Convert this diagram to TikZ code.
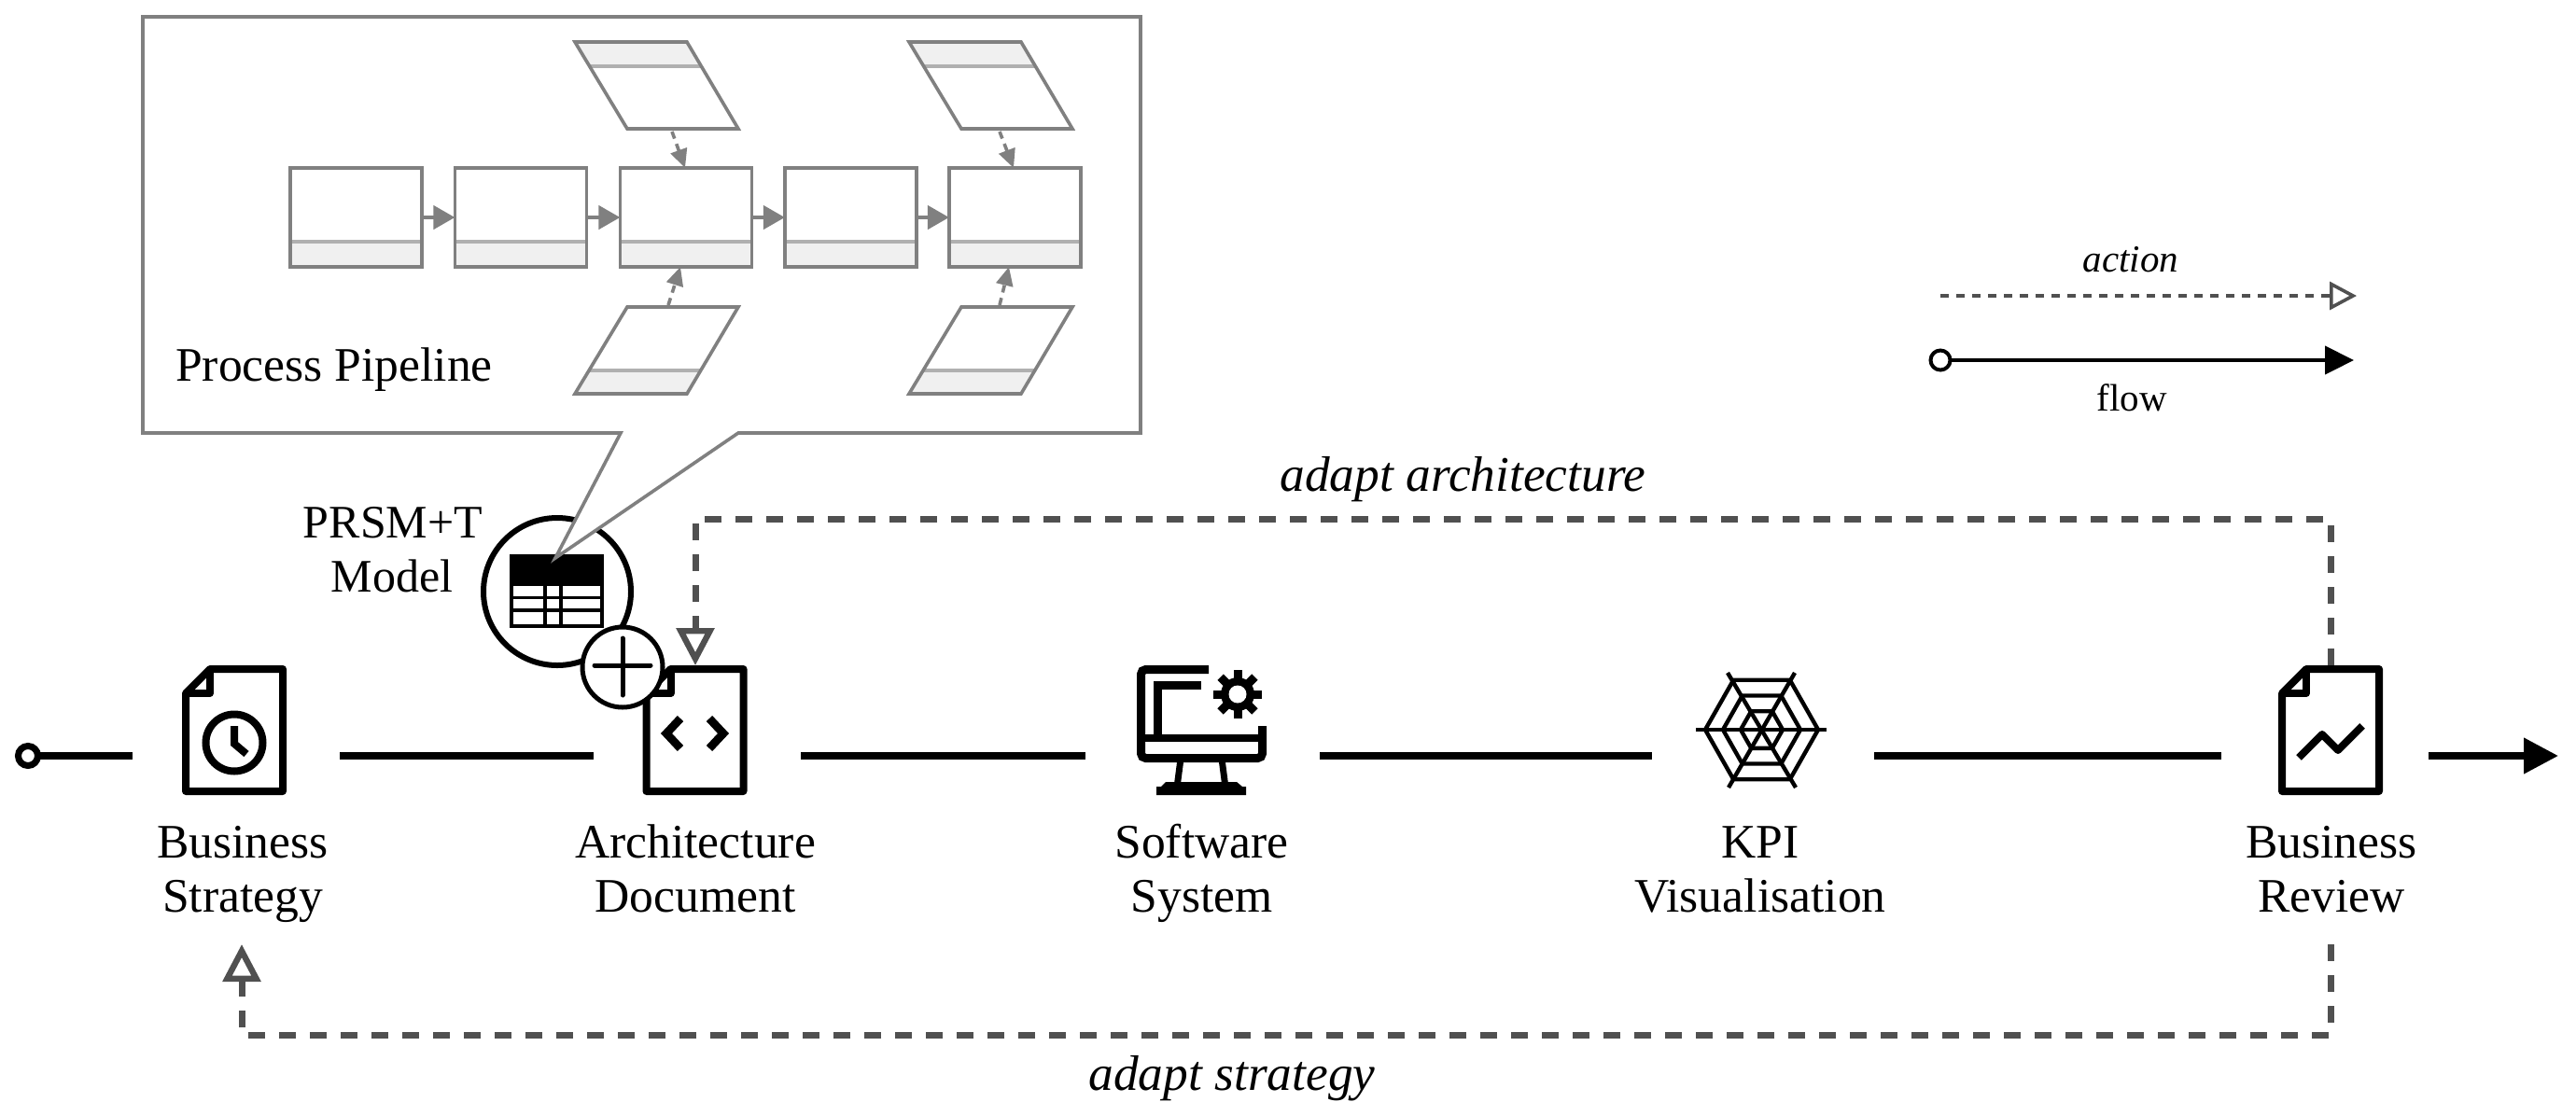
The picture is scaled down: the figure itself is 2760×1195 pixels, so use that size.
\documentclass[tikz,border=0pt]{standalone}
\usepackage{fontspec}
\setmainfont{Liberation Serif}
\usetikzlibrary{arrows.meta}
\definecolor{panelgray}{HTML}{808080}
\definecolor{dividergray}{HTML}{B0B0B0}
\definecolor{secfill}{HTML}{F0F0F0}
\definecolor{actgray}{HTML}{505050}
\tikzset{
  x=0.5pt,y=-0.5pt,
  slot/.style={inner sep=0pt,outer sep=0pt,minimum height=0pt,minimum width=#1},
  flowline/.style={line width=3.7pt,black},
  actionline/.style={line width=3.5pt,actgray,dash pattern=on 9pt off 7.5pt},
  openhead/.style={-{Triangle[open,length=20pt,width=20pt,line width=3.2pt]}},
  lab/.style={inner sep=0pt,outer sep=0pt,align=center,anchor=base,font=\fontsize{25.8pt}{29pt}\selectfont},
  itlab/.style={inner sep=0pt,outer sep=0pt,anchor=base,font=\fontsize{26.7pt}{29pt}\selectfont\itshape},
  leglab/.style={inner sep=0pt,outer sep=0pt,anchor=base,font=\fontsize{20.5pt}{24pt}\selectfont},
  panelline/.style={line width=1.8pt,panelgray},
  procbox/.style={draw=panelgray,line width=1.8pt,fill=white,inner sep=0pt,outer sep=0pt,
    minimum width=70.6pt,minimum height=53pt,
    path picture={
      \fill[secfill] (path picture bounding box.south west) rectangle ([yshift=13.5pt]path picture bounding box.south east);
      \draw[dividergray,line width=1.8pt] ([yshift=13.5pt]path picture bounding box.south west) -- ([yshift=13.5pt]path picture bounding box.south east);
    }},
  procarrow/.style={panelgray,line width=2.2pt,-{Triangle[length=11.5pt,width=12.5pt]}},
  inputarrow/.style={panelgray,line width=1.8pt,dash pattern=on 4pt off 3pt,-{Triangle[length=10pt,width=9pt]}},
  iconline/.style={line width=4pt,black,line join=round},
  docicon/.pic={
    \draw[iconline,fill=white] (199,743) -- (225,717) -- (303,717) -- (303,848) -- (199,848) -- cycle;
    \draw[iconline] (225,717) -- (225,743) -- (199,743);
  },
  webring/.pic={
    \draw[line width=2.2pt,black,line join=round] (-#1,0) -- (-#1/2,-#1*0.88) -- (#1/2,-#1*0.88) -- (#1,0) -- (#1/2,#1*0.88) -- (-#1/2,#1*0.88) -- cycle;
  },
}
\begin{document}
\begin{tikzpicture}
\path[fill=white,use as bounding box] (0,0) rectangle (2760,1195);

% flow nodes (slots around each icon: connectors end at their sides)
\node[slot=111pt] (bs) at (253,810) {};
\node[slot=111pt] (ad) at (747,810) {};
\node[slot=125.5pt] (ss) at (1288.5,810) {};
\node[slot=119pt] (kv) at (1889,810) {};
\node[slot=111pt] (br) at (2491,810) {};
\coordinate (flowend) at (2741,810);
\node[circle,draw=black,line width=3.5pt,fill=white,inner sep=0pt,outer sep=0pt,minimum size=10.5pt] (flowstart) at (30,810) {};

\draw[flowline] (flowstart) -- (bs.west);
\draw[flowline] (bs.east) -- (ad.west);
\draw[flowline] (ad.east) -- (ss.west);
\draw[flowline] (ss.east) -- (kv.west);
\draw[flowline] (kv.east) -- (br.west);
\draw[flowline,-{Triangle[length=18.5pt,width=18.5pt]}] (br.east) -- (flowend);

% icons: business strategy
\pic at (0,0) {docicon};
\draw[line width=4pt,black] (251,796) circle[radius=30.5];
\draw[line width=4pt,black,line join=miter] (251,778) -- (251,797) -- (264,808);

% architecture document
\pic at (493.5,0) {docicon};
\draw[line width=4.4pt,black] (729,770) -- (714,786) -- (729,802);
\draw[line width=4.4pt,black] (760,770) -- (775,786) -- (760,802);

% software system
\draw[line width=4.5pt,black,rounded corners=2.5pt] (1295,717.5) -- (1222.5,717.5) -- (1222.5,812.5) -- (1352.5,812.5) -- (1352.5,778);
\draw[line width=4.5pt,black] (1287,734.5) -- (1240.5,734.5) -- (1240.5,787);
\draw[line width=4.2pt,black] (1225,791) -- (1350,791);
\fill[black] (1261,817) -- (1268,817) -- (1265,840) -- (1258,840) -- cycle;
\fill[black] (1306,817) -- (1313,817) -- (1316,840) -- (1309,840) -- cycle;
\fill[black] (1249,838) -- (1325,838) -- (1331,843) -- (1335,843) -- (1335,852) -- (1239,852) -- (1239,843) -- (1244,843) -- cycle;
\foreach \a in {0,45,...,315}{
  \fill[black,shift={(1326,744)},rotate=\a] (-4.5,-26) rectangle (4.5,0);
}
\fill[black] (1326,744) circle[radius=18];
\fill[white] (1326,744) circle[radius=9.5];

% KPI web
\draw[line width=2.2pt,black] (1817,782) -- (1957,782);
\draw[line width=2.2pt,black] (1851,721) -- (1924,844);
\draw[line width=2.2pt,black] (1923,721) -- (1852,844);
\pic at (1887.5,782) {webring=60.5};
\pic at (1887.5,782) {webring=41.5};
\pic at (1887.5,782) {webring=22.5};

% business review
\pic at (2246,0) {docicon};
\draw[line width=4pt,black,line join=round] (2463,812) -- (2488,787) -- (2505,804) -- (2531,778);

% PRSM+T model circle, table, callout
\draw[line width=3pt,black] (597,634) circle[radius=79];
\fill[black] (546,594) rectangle (647,626);
\draw[line width=2pt,black] (548,626) rectangle (645,671);
\draw[line width=1.7pt,black] (548,640.5) -- (645,640.5);
\draw[line width=2.1pt,black] (548,654) -- (645,654);
\draw[line width=1.9pt,black] (584.2,626) -- (584.2,671);
\draw[line width=1.9pt,black] (600.9,626) -- (600.9,671);

\draw[panelline,fill=white,line join=miter] (153,18) -- (1222,18) -- (1222,464) -- (791,464) -- (595,598) -- (665,464) -- (153,464) -- cycle;

\node[circle,draw=black,line width=2.5pt,fill=white,inner sep=0pt,outer sep=0pt,minimum size=43pt] (plus) at (667,715) {};
\draw[line width=2.5pt,black,line cap=round] (637,713) -- (697,713);
\draw[line width=2.5pt,black,line cap=round] (667,684) -- (667,745);

% process pipeline
\node[procbox] (p1) at (381.5,233) {};
\node[procbox] (p2) at (558,233) {};
\node[procbox] (p3) at (735,233) {};
\node[procbox] (p4) at (911.5,233) {};
\node[procbox] (p5) at (1087.5,233) {};
\draw[procarrow] (p1.east) -- (p2.west);
\draw[procarrow] (p2.east) -- (p3.west);
\draw[procarrow] (p3.east) -- (p4.west);
\draw[procarrow] (p4.east) -- (p5.west);

\foreach \dx/\nm in {0/a,358/b}{
  \begin{scope}[shift={(\dx,0)}]
    % upper parallelogram
    \fill[secfill] (616,45) -- (736,45) -- (751,71) -- (632,71) -- cycle;
    \draw[dividergray,line width=1.8pt] (632,71) -- (751,71);
    \draw[panelline,line join=miter] (616,45) -- (736,45) -- (791,138) -- (672,138) -- cycle;
    % lower parallelogram
    \fill[secfill] (631,397) -- (751,397) -- (736,422) -- (616,422) -- cycle;
    \draw[dividergray,line width=1.8pt] (631,397) -- (751,397);
    \draw[panelline,line join=miter] (672,329) -- (791,329) -- (736,422) -- (616,422) -- cycle;
  \end{scope}
}
\coordinate (topa) at (720,141);
\coordinate (topb) at (1071,141);
\coordinate (lowa) at (716,327);
\coordinate (lowb) at (1071,327);
\draw[inputarrow] (topa) -- ([xshift=-0.5pt]p3.north);
\draw[inputarrow] (topb) -- ([xshift=-0.75pt]p5.north);
\draw[inputarrow] (lowa) -- ([xshift=-3pt]p3.south);
\draw[inputarrow] (lowb) -- ([xshift=-3.25pt]p5.south);

\node[lab] (pipe) at (358,408) {Process Pipeline};

% action arrows
\coordinate (revtop) at (2497,713);
\coordinate (topcorner) at (2497,556);
\coordinate (archcorner) at (745,556);
\coordinate (archtop) at (745,713);
\draw[actionline,openhead,line join=miter] (revtop) -- (topcorner) -- (archcorner) -- (archtop);
\coordinate (revbot) at (2497,1012);
\coordinate (botcorner) at (2497,1109);
\coordinate (stratcorner) at (259,1109);
\coordinate (stratbot) at (259,1012);
\draw[actionline,openhead,line join=miter] (revbot) -- (botcorner) -- (stratcorner) -- (stratbot);

% labels
\node[lab] (l1a) at (260,919) {Business};
\node[lab] (l1b) at (260,977) {Strategy};
\node[lab] (l2a) at (745,919) {Architecture};
\node[lab] (l2b) at (745,977) {Document};
\node[lab] (l3a) at (1287.5,919) {Software};
\node[lab] (l3b) at (1287.5,977) {System};
\node[lab] (l4a) at (1886,919) {KPI};
\node[lab] (l4b) at (1886,977) {Visualisation};
\node[lab] (l5a) at (2498,919) {Business};
\node[lab] (l5b) at (2498,977) {Review};
\node[lab,font=\fontsize{25pt}{29pt}\selectfont] (m1) at (421,576) {PRSM+T};
\node[lab,font=\fontsize{25pt}{29pt}\selectfont] (m2) at (420,634) {Model};
\node[itlab] (aa) at (1567.5,526) {adapt architecture};
\node[itlab] (as) at (1320,1168) {adapt strategy};

% legend
\coordinate (actstart) at (2079,317);
\coordinate (actend) at (2525,317);
\draw[actgray,line width=1.9pt,dash pattern=on 4.5pt off 4pt,-{Triangle[open,length=14.5pt,width=15pt,line width=1.8pt]}] (actstart) -- (actend);
\node[circle,draw=black,line width=2pt,fill=white,inner sep=0pt,outer sep=0pt,minimum size=10.5pt] (legstart) at (2079,386) {};
\coordinate (legend) at (2522,386);
\draw[black,line width=2pt,-{Triangle[length=15.5pt,width=15pt]}] (legstart) -- (legend);
\node[leglab,font=\fontsize{20.5pt}{24pt}\selectfont\itshape] (act) at (2283,291) {action};
\node[leglab] (flw) at (2284,440) {flow};
\end{tikzpicture}
\end{document}
